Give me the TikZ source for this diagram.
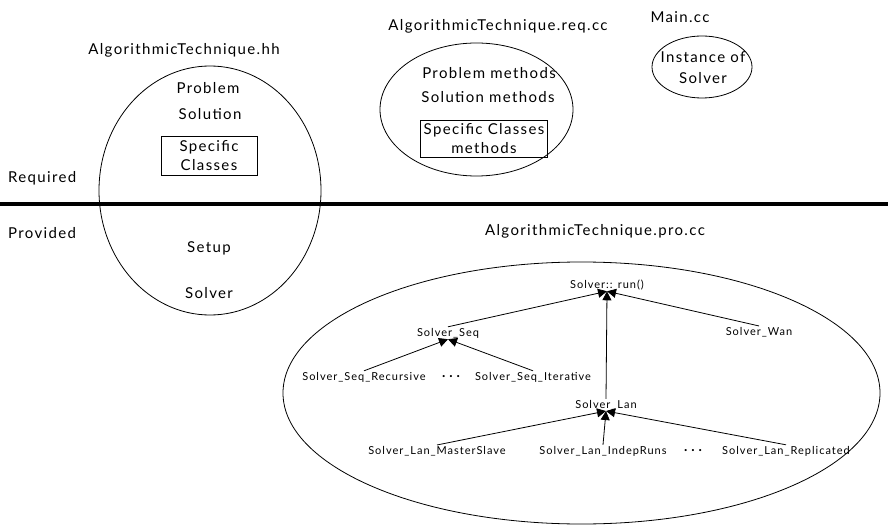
\documentclass[tikz,border=0pt]{standalone}
\usepackage{fontspec}
\setmainfont{Lato}[LetterSpace=9]
\usetikzlibrary{arrows.meta,shapes.geometric}
\begin{document}
\begin{tikzpicture}[x=1pt,y=-1pt,
  lbl/.style={font=\fontsize{15}{20}\selectfont, inner sep=0pt, align=center},
  sm/.style={font=\fontsize{11}{12}\selectfont, inner sep=1pt},
  dots/.style={font=\bfseries\fontsize{14}{12}\selectfont, inner sep=1pt},
  oval/.style={draw, ellipse, line width=0.8pt, inner sep=0pt},
  cbox/.style={draw, line width=0.8pt, inner sep=1.5pt, align=center, font=\fontsize{15}{19}\selectfont},
  arr/.style={-{Triangle[length=9pt,width=9pt]}, line width=0.8pt}]
\useasboundingbox (0,0) rectangle (888,529);
% separator
\coordinate (sepL) at (0,204);
\coordinate (sepR) at (888,204);
\draw[line width=4pt] (sepL) -- (sepR);
\node[lbl, anchor=west] (req) at (8,178) {Required};
\node[lbl, anchor=west] (prov) at (8,233) {Provided};
% left ellipse
\node[lbl] (hhT) at (184,50) {AlgorithmicTechnique.hh};
\node[oval, minimum width=222pt, minimum height=249pt] (hh) at (210,190.5) {};
\node[lbl] (hP) at (208,88) {Problem};
\node[lbl] (hS) at (210,114) {Solution};
\node[cbox, minimum width=96pt, minimum height=39pt] (hC) at (209,155.5) {Specific\\Classes};
\node[lbl] (hSet) at (209,248) {Setup};
\node[lbl] (hSol) at (209,293) {Solver};
% middle ellipse
\node[lbl] (rqT) at (498,26) {AlgorithmicTechnique.req.cc};
\node[oval, minimum width=193pt, minimum height=133pt] (rq) at (476.5,109.5) {};
\node[lbl] (rP) at (489,73) {Problem methods};
\node[lbl] (rS) at (488,97) {Solution methods};
\node[cbox, minimum width=127pt, minimum height=37pt] (rC) at (484,138.5) {Specific Classes\\methods};
% main
\node[lbl] (mT) at (680,17) {Main.cc};
\node[oval, minimum width=100pt, minimum height=62pt] (mn) at (702,67) {};
\node[lbl] (mI) at (703,57) {Instance of};
\node[lbl] (mS) at (703,78) {Solver};
% provided big ellipse
\node[lbl] (pT) at (595,231) {AlgorithmicTechnique.pro.cc};
\node[oval, minimum width=597pt, minimum height=262pt] (pro) at (581.5,393) {};
\node[sm] (run) at (607,285) {Solver:: run()};
\node[sm] (seq) at (448,333) {Solver\_Seq};
\node[sm] (wan) at (759,332) {Solver\_Wan};
\node[sm] (rec) at (364,377) {Solver\_Seq\_Recursive};
\node[dots] (d1) at (451,377) {.\;.\;.};
\node[sm] (ite) at (533,377) {Solver\_Seq\_Iterative};
\node[sm] (lan) at (606,405) {Solver\_Lan};
\node[sm] (ms) at (437,451) {Solver\_Lan\_MasterSlave};
\node[sm] (ir) at (603,451) {Solver\_Lan\_IndepRuns};
\node[dots] (d2) at (693,451) {.\;.\;.};
\node[sm] (rep) at (786,451) {Solver\_Lan\_Replicated};
\draw[arr] (seq.north) -- (run.south);
\draw[arr] (lan.north) -- (run.south);
\draw[arr] (wan.north) -- (run.south);
\draw[arr] (rec.north) -- (seq.south);
\draw[arr] (ite.north) -- (seq.south);
\draw[arr] (ms.north) -- (lan.south);
\draw[arr] (ir.north) -- (lan.south);
\draw[arr] (rep.north) -- (lan.south);
\end{tikzpicture}
\end{document}
